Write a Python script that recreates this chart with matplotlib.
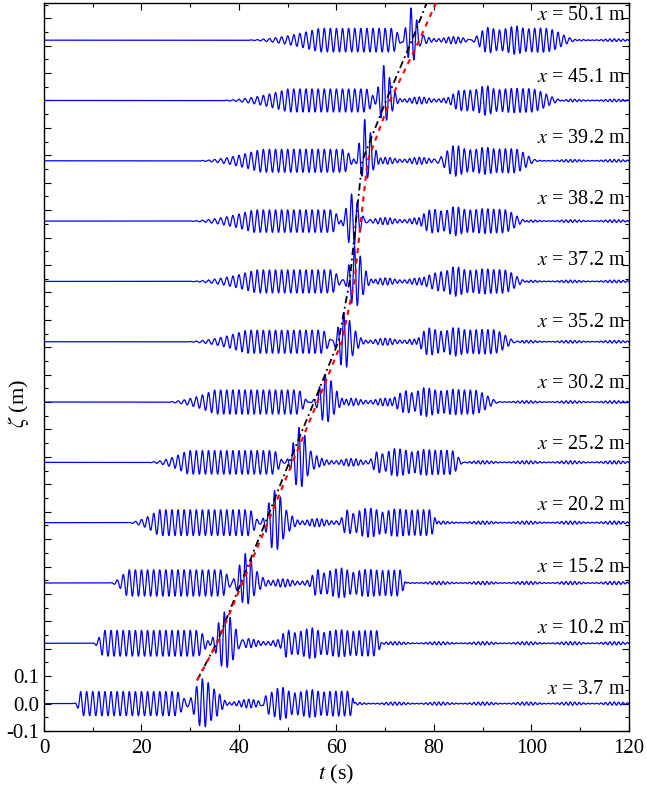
import numpy as np
import matplotlib
matplotlib.use("Agg")
import matplotlib.pyplot as plt
from matplotlib.ticker import FixedLocator, FixedFormatter, MultipleLocator

plt.rcParams["font.family"] = ["Liberation Serif", "DejaVu Serif"]
plt.rcParams["mathtext.fontset"] = "stix"
plt.rcParams["axes.unicode_minus"] = False

# ---- data ----
gauges = [3.7, 10.2, 15.2, 20.2, 25.2, 30.2, 35.2, 37.2, 38.2, 39.2, 45.1, 50.1]
offset_step = 0.22
label_base = 0.051
label_step = 0.2234

# leading packet: start of rise, full amplitude, start of taper, end of taper (s)
packA_t0 = [6.0, 9.8, 13.2, 16.5, 20.5, 24.0, 28.0, 28.3, 28.3, 29.9, 35.0, 40.0]
packA_t1 = [7.5, 12.0, 17.0, 23.5, 29.5, 35.0, 41.5, 43.5, 43.0, 44.5, 50.0, 56.5]
packA_t2 = [27.0, 31.5, 36.5, 42.0, 47.0, 52.0, 57.0, 59.0, 59.0, 61.5, 66.0, 71.5]
packA_t3 = [30.0, 34.5, 39.0, 44.5, 49.5, 54.5, 59.5, 61.5, 61.5, 64.0, 68.5, 74.0]
packA_amp = [0.044, 0.047, 0.048, 0.047, 0.043, 0.044, 0.042, 0.042, 0.041, 0.042, 0.042, 0.043]

# focused group: time of crest, crest height, trough depth, width (s)
focus_t = [32.5, 37.0, 41.3, 47.3, 52.3, 57.7, 61.5, 63.7, 63.1, 65.8, 69.7, 75.3]
focus_crest = [0.090, 0.114, 0.107, 0.117, 0.127, 0.100, 0.106, 0.130, 0.099, 0.150, 0.127, 0.117]
focus_trough = [0.088, 0.092, 0.080, 0.103, 0.094, 0.076, 0.100, 0.096, 0.094, 0.069, 0.080, 0.080]
focus_width = [1.4, 1.3, 1.2, 1.2, 1.1, 1.1, 1.0, 0.95, 0.95, 0.9, 0.85, 0.85]

# trailing packet
packB_t0 = [44.3, 48.2, 54.3, 60.5, 66.5, 70.5, 75.5, 77.0, 76.0, 79.5, 82.0, 85.5]
packB_t1 = [46.0, 50.0, 56.3, 62.5, 68.8, 75.0, 79.5, 82.0, 80.5, 83.5, 87.5, 93.5]
packB_t2 = [63.0, 68.3, 73.0, 79.3, 83.5, 88.0, 92.0, 94.0, 94.0, 96.3, 99.5, 102.5]
packB_t3 = [63.8, 69.3, 74.5, 80.8, 86.3, 94.0, 97.5, 99.5, 99.5, 101.7, 107.0, 110.0]
packB_amp = [0.045, 0.046, 0.047, 0.047, 0.044, 0.044, 0.044, 0.043, 0.043, 0.044, 0.043, 0.044]

gap_amp = [0.016, 0.015, 0.015, 0.015, 0.014, 0.014, 0.013, 0.013, 0.013, 0.013, 0.013, 0.013]
tail_amp = [0.006, 0.006, 0.006, 0.006, 0.006, 0.005, 0.005, 0.005, 0.005, 0.005, 0.005, 0.005]

period_A = 1.25
period_B = 1.2
period_F = 1.2
period_gap = 1.0
period_tail = 0.9

# predicted focus trajectories: start point, time at each gauge level, end at top of axes
black_t = [31.4, 35.4, 40.4, 45.4, 50.3, 55.4, 60.4, 62.7, 64.0, 65.3, 70.2, 75.5, 78.5]
red_t = [31.4, 35.5, 40.7, 45.9, 51.0, 56.1, 61.1, 63.7, 65.0, 66.4, 71.0, 77.0, 80.4]
line_start_y = 0.085

ylim = (-0.1, 2.555)
xlim = (0, 120)


def rise(t, a, b):
    x = np.clip((t - a) / (b - a), 0, 1)
    return x ** 2


def smooth(t, a, b):
    x = np.clip((t - a) / (b - a), 0, 1)
    return x * x * (3 - 2 * x)


t = np.arange(0, 120.0001, 0.01)

fig = plt.figure(figsize=(6.47, 7.88), dpi=100)
ax = fig.add_axes([0.068, 0.0723, 0.904, 0.9237])

for i, g in enumerate(gauges):
    off = i * offset_step
    envA = packA_amp[i] * rise(t, packA_t0[i], packA_t1[i]) * (1 - smooth(t, packA_t2[i], packA_t3[i]))
    sigA = envA * np.cos(2 * np.pi * t / period_A)
    w = np.where(t < focus_t[i], focus_width[i], 1.5 * focus_width[i])
    gF = np.exp(-0.5 * ((t - focus_t[i]) / w) ** 2) * np.cos(2 * np.pi * (t - focus_t[i]) / period_F)
    sigF = np.where(gF > 0, focus_crest[i] * gF, focus_trough[i] * gF)
    envB = packB_amp[i] * smooth(t, packB_t0[i], packB_t1[i]) * (1 - smooth(t, packB_t2[i], packB_t3[i]))
    sigB = envB * np.cos(2 * np.pi * t / period_B + 0.7)
    envG = gap_amp[i] * smooth(t, focus_t[i] + 1.0 * focus_width[i], focus_t[i] + 2.5 * focus_width[i]) * \
        (1 - smooth(t, packB_t1[i], packB_t2[i]))
    sigG = envG * np.cos(2 * np.pi * t / period_gap) * (0.7 + 0.3 * np.cos(2 * np.pi * t / 7.0))
    envT = tail_amp[i] * smooth(t, packB_t3[i] - 2, packB_t3[i] + 1)
    sigT = envT * np.cos(2 * np.pi * t / period_tail) * (0.6 + 0.4 * np.cos(2 * np.pi * t / 9.0))
    eta = sigA + sigF + sigB + sigG + sigT
    ax.plot(t, eta + off, color="blue", lw=0.9, zorder=2)
    ax.text(119.3, label_base + i * label_step, r"$x$ = %.1f m" % g,
            ha="right", va="center", fontsize=14.5, zorder=4)

# focus trajectory lines
levels = np.arange(len(gauges)) * offset_step
line_y = np.concatenate([[line_start_y], levels[1:], [ylim[1]]])

ax.plot(black_t, line_y, color="black", lw=1.3, ls=(0, (4, 2, 1, 2)), zorder=3)
ax.plot(red_t, line_y, color="red", lw=1.5, ls=(0, (2.5, 2.5)), zorder=3)

ax.set_xlim(*xlim)
ax.set_ylim(*ylim)

ax.xaxis.set_major_locator(MultipleLocator(20))
ax.xaxis.set_minor_locator(MultipleLocator(10))
yt = np.round(np.arange(-0.1, 2.55, 0.1), 2)
ax.yaxis.set_major_locator(FixedLocator(yt))
ax.yaxis.set_major_formatter(FixedFormatter(["-0.1", "0.0", "0.1"] + [""] * (len(yt) - 3)))
ax.yaxis.set_minor_locator(MultipleLocator(0.05))
ax.tick_params(which="both", direction="in", top=True, right=True, labelsize=15)
ax.tick_params(which="major", length=5, width=0.8)
ax.tick_params(which="minor", length=3, width=0.8)
ax.tick_params(axis="x", pad=6)
for sp in ax.spines.values():
    sp.set_linewidth(1.0)

ax.set_xlabel(r"$t$ (s)", fontsize=16, labelpad=3)
ax.set_ylabel(r"$\zeta$ (m)", fontsize=16)
ax.yaxis.set_label_coords(-0.022, 0.45)

fig.savefig("out.png", dpi=100)
